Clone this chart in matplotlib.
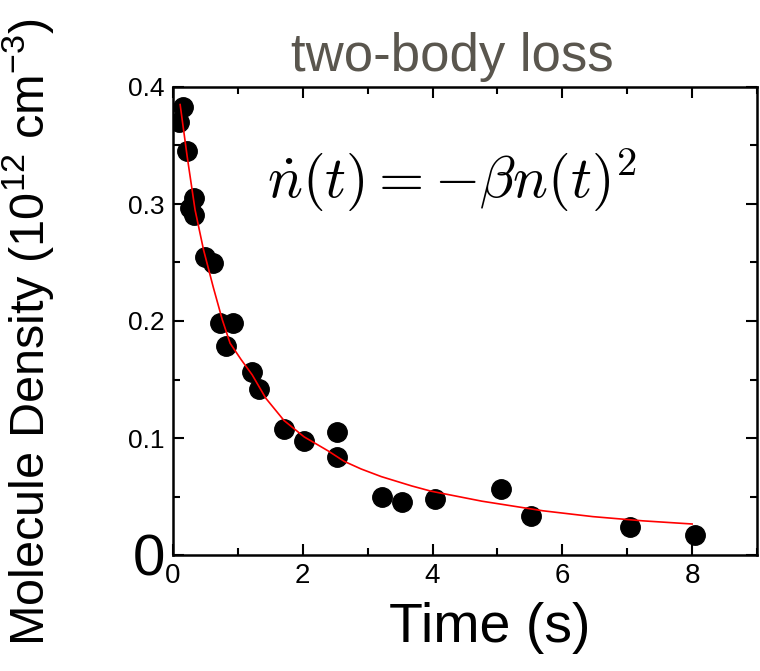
import matplotlib
matplotlib.use("Agg")
import matplotlib.pyplot as plt
from matplotlib.ticker import FixedLocator, MultipleLocator

plt.rcParams['font.family'] = ['Liberation Sans', 'DejaVu Sans']
plt.rcParams['mathtext.fontset'] = 'custom'
plt.rcParams['mathtext.rm'] = 'Liberation Sans'
plt.rcParams['mathtext.it'] = 'Liberation Sans:italic'

# measured data
time_s = [0.09, 0.16, 0.22, 0.26, 0.33, 0.33, 0.50, 0.62, 0.72, 0.81, 0.92,
          1.21, 1.32, 1.71, 2.02, 2.52, 2.52, 3.22, 3.53, 4.03, 5.05, 5.52,
          7.04, 8.04]
density = [0.370, 0.383, 0.345, 0.297, 0.305, 0.291, 0.255, 0.250, 0.198,
           0.179, 0.198, 0.156, 0.142, 0.108, 0.0975, 0.105, 0.084, 0.0497,
           0.045, 0.048, 0.056, 0.033, 0.024, 0.017]

# fit curve
fit_t = [0.11, 0.22, 0.34, 0.47, 0.62, 0.76, 0.88, 1.05, 1.22, 1.43, 1.71,
         2.02, 2.39, 2.64, 2.9, 3.21, 3.68, 3.98, 4.76, 5.7, 6.47, 7.24, 8.0]
fit_n = [0.385, 0.340, 0.295, 0.261, 0.229, 0.201, 0.181, 0.167, 0.154,
         0.134, 0.115, 0.101, 0.089, 0.080, 0.0735, 0.067, 0.059, 0.0545,
         0.046, 0.0378, 0.0328, 0.0292, 0.0265]

xticks = [0, 2, 4, 6, 8]
xtick_labels = ['0', '2', '4', '6', '8']
yticks = [0, 0.1, 0.2, 0.3, 0.4]
ytick_labels = ['0', '0.1', '0.2', '0.3', '0.4']

fig = plt.figure(figsize=(7.6, 6.71), dpi=100)
ax = fig.add_axes([173/760, 1-555/671, (757-173)/760, (555-87)/671])

ax.plot(fit_t, fit_n, color='red', lw=1.2, zorder=3)
ax.plot(time_s, density, 'o', color='black', ms=14, zorder=2)

ax.set_xlim(0, 9)
ax.set_ylim(0, 0.4)
ax.tick_params(which='both', direction='in', top=True, right=True, width=1.5)
ax.tick_params(which='major', length=8, pad=6)
ax.tick_params(which='minor', length=5)
ax.xaxis.set_major_locator(FixedLocator(xticks))
ax.xaxis.set_minor_locator(MultipleLocator(1))
ax.yaxis.set_major_locator(FixedLocator(yticks))
ax.yaxis.set_minor_locator(MultipleLocator(0.05))
ax.set_xticklabels(xtick_labels)
ax.set_yticklabels(ytick_labels)
ax.tick_params(axis='x', labelsize=20)
ax.tick_params(axis='y', labelsize=19)
ylabs = ax.get_yticklabels()
ylabs[0].set_fontsize(42)

for s in ax.spines.values():
    s.set_linewidth(1.8)

fig.text(452/760, 1-57/671, 'two-body loss', fontsize=38, color='#5a564e',
         ha='center', va='center')
fig.text(452/760, 1-180/671, r'$\dot{n}(t) = -\beta n(t)^2$', fontsize=42,
         ha='center', va='center', math_fontfamily='cm')
fig.text(28/760, 0.505, r'Molecule Density (10$^{12}$ cm$^{-3}$)', fontsize=35,
         rotation=90, ha='center', va='center')
fig.text(490/760, 1-628/671, 'Time (s)', fontsize=40, ha='center', va='center')

fig.savefig('out.png', dpi=100)
